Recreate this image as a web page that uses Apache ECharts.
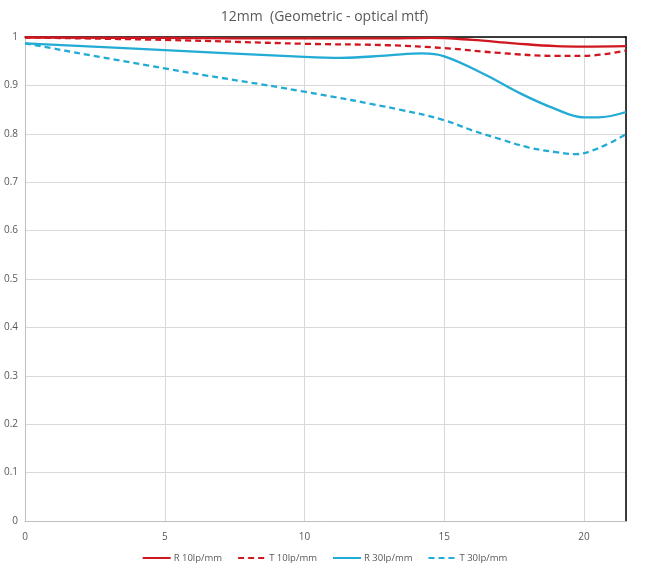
<!DOCTYPE html>
<html>
<head>
<meta charset="utf-8">
<script src="https://cdn.jsdelivr.net/npm/echarts@6/dist/echarts.min.js"></script>
<style>html,body{margin:0;padding:0;background:#fff}#c{width:649px;height:571px}</style>
</head>
<body>
<div id="c"></div>
<script>
const titleText = '12mm  (Geometric - optical mtf)';
const seriesNames = ['R 10lp/mm', 'T 10lp/mm', 'R 30lp/mm', 'T 30lp/mm'];
const xTicks = [0, 5, 10, 15, 20];
const yTicks = [0, 0.1, 0.2, 0.3, 0.4, 0.5, 0.6, 0.7, 0.8, 0.9, 1];

const r10x = [0, 5, 10, 13, 14.5, 16, 17.5, 19, 20, 21.5];
const r10y = [0.999, 0.998, 0.997, 0.997, 0.998, 0.994, 0.987, 0.981, 0.980, 0.981];

const t10x = [0, 5, 10, 13, 15, 17, 19, 20, 21.5];
const t10y = [0.999, 0.994, 0.986, 0.983, 0.977, 0.967, 0.961, 0.961, 0.972];

const r30x = [0, 5, 10, 11.3, 13, 14.2, 15, 16.5, 17.7, 18.9, 20, 20.5, 21.5];
const r30y = [0.987, 0.973, 0.959, 0.957, 0.962, 0.966, 0.960, 0.921, 0.884, 0.853, 0.834, 0.834, 0.845];

const t30x = [0, 5, 10, 13.4, 15, 16, 17, 18, 19, 19.7, 20.5, 21.5];
const t30y = [0.987, 0.935, 0.887, 0.850, 0.828, 0.807, 0.789, 0.772, 0.762, 0.758, 0.770, 0.799];

const xMax = 21.5;
const red = '#d0161e';
const cyan = '#22abd5';
const txt = '#595959';
const font = '"Open Sans", "Liberation Sans", sans-serif';

function pairs(xs, ys) { return xs.map((x, i) => [x, ys[i]]); }

const chart = echarts.init(document.getElementById('c'));
chart.setOption({
  animation: false,
  backgroundColor: '#fff',
  title: {
    text: titleText, left: 'center', top: 5,
    textStyle: { fontFamily: font, fontSize: 14, fontWeight: 'normal', color: txt }
  },
  legend: {
    bottom: 3, left: 'center', itemWidth: 28, itemHeight: 10, itemGap: 15,
    itemStyle: { opacity: 0 },
    textStyle: { fontFamily: font, fontSize: 9.5, color: txt, padding: [0, 0, 0, -2] },
    data: seriesNames
  },
  grid: { left: 25, right: 23, top: 37, bottom: 50, containLabel: false },
  xAxis: [{
    type: 'value', min: 0, max: xMax, interval: 5,
    axisLine: { lineStyle: { color: '#bfbfbf', width: 1 } },
    axisTick: { show: false },
    axisLabel: { color: txt, fontFamily: font, fontSize: 10, margin: 11, showMaxLabel: false,
      formatter: v => xTicks.includes(v) ? String(v) : '' },
    splitLine: { lineStyle: { color: '#d9d9d9' } }
  }, {
    type: 'value', min: 0, max: xMax, position: 'top',
    axisLine: { show: true, onZero: false, lineStyle: { color: '#000', width: 1.5 } },
    axisTick: { show: false }, axisLabel: { show: false }, splitLine: { show: false }
  }],
  yAxis: [{
    type: 'value', min: 0, max: 1, interval: 0.1,
    axisLine: { show: true, lineStyle: { color: '#bfbfbf', width: 1 } },
    axisTick: { show: false },
    axisLabel: { color: txt, fontFamily: font, fontSize: 10, margin: 7,
      formatter: v => { const t = yTicks.find(k => Math.abs(k - v) < 1e-9); return t === undefined ? '' : String(t); } },
    splitLine: { lineStyle: { color: '#d9d9d9' } }
  }, {
    type: 'value', min: 0, max: 1, position: 'right',
    axisLine: { show: true, onZero: false, lineStyle: { color: '#000', width: 1.5 } },
    axisTick: { show: false }, axisLabel: { show: false }, splitLine: { show: false }
  }],
  series: [
    { name: seriesNames[0], type: 'line', smooth: 0.4, symbol: 'none', data: pairs(r10x, r10y),
      lineStyle: { color: red, width: 2.3 }, itemStyle: { color: red }, z: 4 },
    { name: seriesNames[1], type: 'line', smooth: 0.4, symbol: 'none', data: pairs(t10x, t10y),
      lineStyle: { color: red, width: 2.3, type: [6, 4] }, itemStyle: { color: red }, z: 3 },
    { name: seriesNames[2], type: 'line', smooth: 0.4, symbol: 'none', data: pairs(r30x, r30y),
      lineStyle: { color: cyan, width: 2.3 }, itemStyle: { color: cyan }, z: 2 },
    { name: seriesNames[3], type: 'line', smooth: 0.4, symbol: 'none', data: pairs(t30x, t30y),
      lineStyle: { color: cyan, width: 2.3, type: [6, 4] }, itemStyle: { color: cyan }, z: 1 }
  ]
});
</script>
</body>
</html>
